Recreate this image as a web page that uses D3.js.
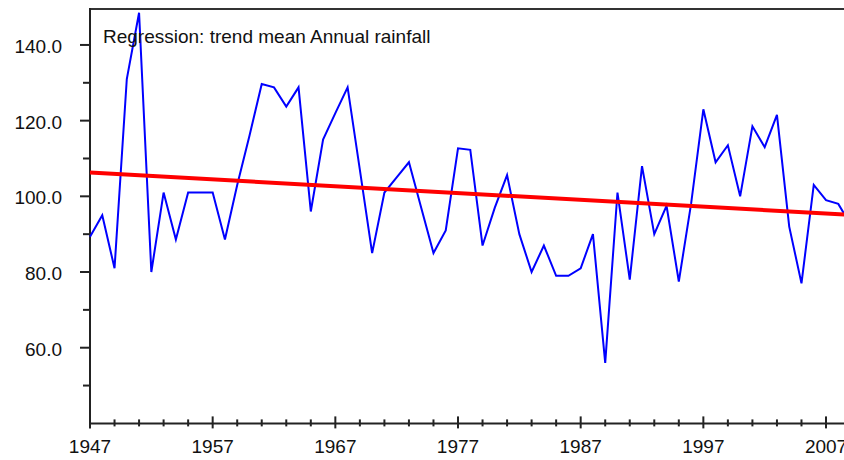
<!DOCTYPE html>
<html>
<head>
<meta charset="utf-8">
<script src="https://cdn.jsdelivr.net/npm/d3@7"></script>
<style>
  html, body { margin: 0; padding: 0; background: #fff; }
  svg { display: block; }
  text { font-family: "Liberation Sans", Arial, sans-serif; font-size: 19px; fill: #111; }
</style>
</head>
<body>
<svg id="chart" width="844" height="460"></svg>
<script>
// Annual rainfall series (mean annual rainfall, one value per year)
const years = d3.range(1947, 2010);
const rainfall = [
  89.3, 95.0, 81.0, 131.0, 148.5, 80.0, 101.0, 88.6, 101.0, 101.0,
  101.0, 88.6, 103.0, 116.0, 129.7, 128.8, 123.7, 128.8, 96.0, 115.0,
  122.0, 128.8, 107.0, 85.0, 101.0, 105.0, 109.0, 97.0, 85.0, 91.0,
  112.7, 112.3, 87.0, 97.0, 105.6, 90.0, 80.0, 87.0, 79.0, 79.0,
  81.0, 90.0, 56.0, 101.0, 78.0, 108.0, 90.0, 97.5, 77.5, 98.0,
  123.0, 109.0, 113.5, 100.0, 118.5, 113.0, 121.5, 92.0, 77.0, 103.0,
  99.0, 98.0, 92.5
];

// Linear trend line, endpoints
const trendYears = [1947, 2009];
const trendValues = [106.3, 95.1];

// Axis ticks
const yMajorTicks = [60, 80, 100, 120, 140];
const yMinorTicks = [50, 70, 90, 110, 130];
const xMajorTicks = [1947, 1957, 1967, 1977, 1987, 1997, 2007];
const xMinorTicks = d3.range(1949, 2010, 2).filter(y => !xMajorTicks.includes(y));

const title = "Regression: trend mean Annual rainfall";

const svg = d3.select("#chart");

const x = d3.scaleLinear().domain([1947, 2009]).range([90, 90 + 62 * 12.267]);
const y = d3.scaleLinear().domain([40, 149.5]).range([423.4, 9]);

const axisColor = "#222";

// frame top and y axis line
svg.append("line")
  .attr("x1", 90).attr("x2", 844)
  .attr("y1", y(149.5)).attr("y2", y(149.5))
  .attr("stroke", "#333").attr("stroke-width", 2);

// Y axis
const yAxis = svg.append("g");
yAxis.append("line")
  .attr("x1", 90).attr("x2", 90)
  .attr("y1", y(149.5) - 1).attr("y2", y(40) + 1)
  .attr("stroke", axisColor).attr("stroke-width", 2);
yAxis.selectAll("line.major").data(yMajorTicks).join("line")
  .attr("class", "major")
  .attr("x1", 80).attr("x2", 90)
  .attr("y1", d => y(d)).attr("y2", d => y(d))
  .attr("stroke", axisColor).attr("stroke-width", 2);
yAxis.selectAll("line.minor").data(yMinorTicks).join("line")
  .attr("class", "minor")
  .attr("x1", 83).attr("x2", 90)
  .attr("y1", d => y(d)).attr("y2", d => y(d))
  .attr("stroke", axisColor).attr("stroke-width", 2);
yAxis.selectAll("text").data(yMajorTicks).join("text")
  .attr("x", 62)
  .attr("y", d => y(d) + 8)
  .attr("text-anchor", "end")
  .text(d => d3.format(".1f")(d));

// X axis
const xAxis = svg.append("g");
xAxis.append("line")
  .attr("x1", 89).attr("x2", 844)
  .attr("y1", y(40)).attr("y2", y(40))
  .attr("stroke", axisColor).attr("stroke-width", 2);
xAxis.selectAll("line.major").data(xMajorTicks).join("line")
  .attr("class", "major")
  .attr("x1", d => x(d)).attr("x2", d => x(d))
  .attr("y1", y(40) - 7).attr("y2", y(40) + 5)
  .attr("stroke", axisColor).attr("stroke-width", 2);
xAxis.selectAll("line.minor").data(xMinorTicks).join("line")
  .attr("class", "minor")
  .attr("x1", d => x(d)).attr("x2", d => x(d))
  .attr("y1", y(40) - 4).attr("y2", y(40) + 3)
  .attr("stroke", axisColor).attr("stroke-width", 2);
xAxis.selectAll("text").data(xMajorTicks).join("text")
  .attr("x", d => x(d))
  .attr("y", 453)
  .attr("text-anchor", "middle")
  .text(d => d);

// rainfall series
const line = d3.line().x((d, i) => x(years[i])).y(d => y(d));
svg.append("path")
  .datum(rainfall)
  .attr("d", line)
  .attr("fill", "none")
  .attr("stroke", "#0000ff")
  .attr("stroke-width", 2)
  .attr("stroke-linejoin", "miter");

// regression trend
svg.append("path")
  .datum(trendValues)
  .attr("d", d3.line().x((d, i) => x(trendYears[i])).y(d => y(d)))
  .attr("fill", "none")
  .attr("stroke", "#ff0000")
  .attr("stroke-width", 4);

// caption
svg.append("text")
  .attr("x", 103)
  .attr("y", 43)
  .text(title);
</script>
</body>
</html>
